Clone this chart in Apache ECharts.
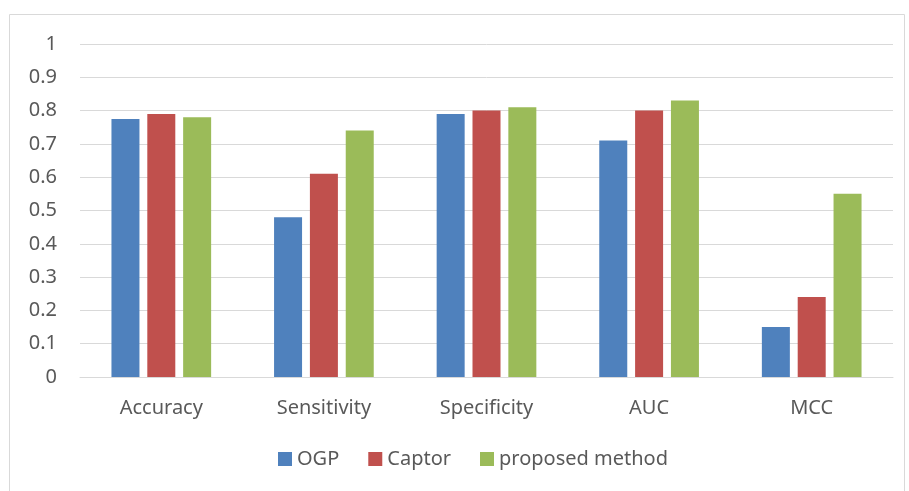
<!DOCTYPE html>
<html>
<head>
<meta charset="utf-8">
<script src="https://cdn.jsdelivr.net/npm/echarts@6/dist/echarts.min.js"></script>
<style>
  html, body { margin: 0; padding: 0; background: #fff; }
</style>
</head>
<body>
<div id="chart" style="width: 909px;height:491px"></div>
<script>
const categories = ['Accuracy', 'Sensitivity', 'Specificity', 'AUC', 'MCC'];
const ogp = [0.775, 0.48, 0.79, 0.71, 0.15];
const captor = [0.79, 0.61, 0.80, 0.80, 0.24];
const proposed = [0.78, 0.74, 0.81, 0.83, 0.55];

const chart = echarts.init(document.getElementById('chart'));
const textColor = '#595959';
const font = 'Noto Sans';

const option = {
  animation: false,
  graphic: [{
    type: 'rect',
    shape: { x: 9.5, y: 14.5, width: 895, height: 480 },
    style: { fill: 'none', stroke: '#D9D9D9', lineWidth: 1 },
    silent: true,
  }],
  legend: {
    bottom: 17,
    left: 273,
    itemWidth: 14,
    itemHeight: 14,
    itemGap: 29,
    icon: 'rect',
    textStyle: { color: textColor, fontSize: 20, fontFamily: font },
    data: ['OGP', 'Captor', 'proposed method'],
  },
  grid: {
    left: 80,
    right: 16,
    top: 44,
    bottom: 114,
  },
  xAxis: {
    type: 'category',
    data: categories,
    axisLine: { lineStyle: { color: '#D9D9D9' } },
    axisTick: { show: false },
    axisLabel: { color: textColor, fontSize: 20, fontFamily: font, margin: 21 },
  },
  yAxis: {
    type: 'value',
    min: 0,
    max: 1,
    interval: 0.1,
    axisLine: { show: false },
    axisTick: { show: false },
    splitLine: { lineStyle: { color: '#D9D9D9', width: 1 } },
    axisLabel: {
      color: textColor,
      fontSize: 20,
      fontFamily: font,
      margin: 23,
      formatter: (v) => (Math.round(v * 10) / 10).toString(),
    },
  },
  series: [
    {
      name: 'OGP',
      type: 'bar',
      data: ogp,
      color: '#4F81BD',
      barWidth: 28,
      barGap: '28%',
    },
    {
      name: 'Captor',
      type: 'bar',
      data: captor,
      color: '#C0504D',
      barWidth: 28,
      barGap: '28%',
    },
    {
      name: 'proposed method',
      type: 'bar',
      data: proposed,
      color: '#9BBB59',
      barWidth: 28,
      barGap: '28%',
    },
  ],
};
chart.setOption(option);
</script>
</body>
</html>
